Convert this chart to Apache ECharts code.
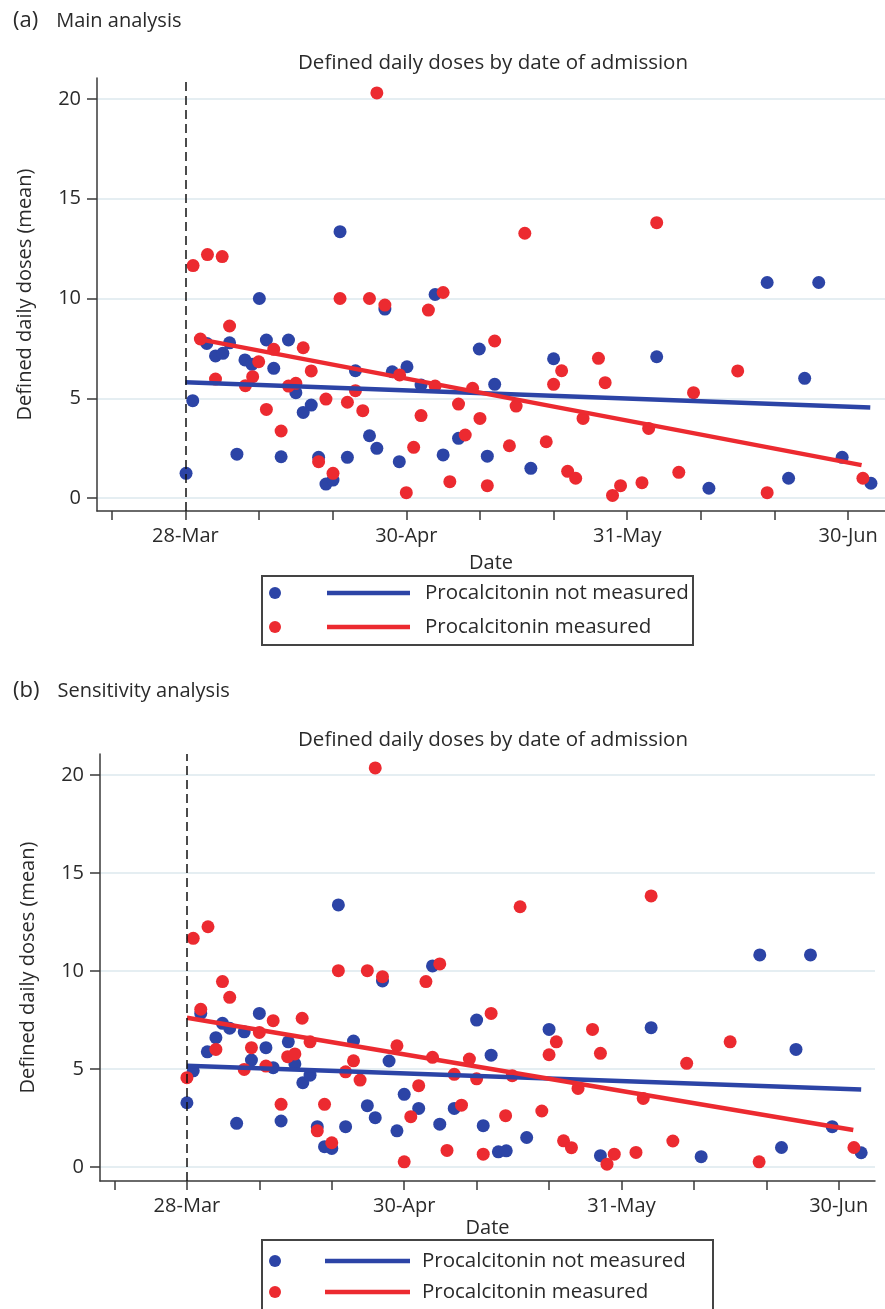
<!DOCTYPE html>
<html>
<head>
<meta charset="utf-8">
<script src="https://cdn.jsdelivr.net/npm/echarts@6/dist/echarts.min.js"></script>
<style>
  html, body { margin: 0; padding: 0; background: #fff; }
  #chart { width: 885px; height: 1309px; }
</style>
</head>
<body>
<div id="chart"></div>
<script>
// x values are days since 28-Mar (as placed on the original axis)
const tickDays = [-11, 0, 11, 22, 33, 44, 55, 66, 77, 88, 99];
const labelDays = [0, 33, 66, 99];
const dateLabels = ['28-Mar', '30-Apr', '31-May', '30-Jun'];
const yTicks = [0, 5, 10, 15, 20];

// (a) main analysis
const mainNotMeasured = [
  [0.1, 1.24], [1.1, 4.88], [3.2, 7.75], [4.5, 7.12], [5.6, 7.25], [6.6, 7.78], [7.7, 2.2],
  [8.9, 6.92], [9.95, 6.7], [11.05, 10.0], [12.1, 7.92], [13.2, 6.5], [14.3, 2.07], [15.4, 7.92],
  [16.5, 5.28], [17.6, 4.29], [18.8, 4.66], [19.9, 2.04], [21.0, 0.7], [22.05, 0.9], [23.1, 13.35],
  [24.2, 2.04], [25.4, 6.38], [27.5, 3.12], [28.6, 2.49], [29.8, 9.47], [30.9, 6.33], [31.95, 1.82],
  [33.1, 6.58], [35.2, 5.66], [37.3, 10.2], [38.5, 2.16], [40.8, 2.99], [43.9, 7.47], [45.1, 2.1],
  [46.2, 5.7], [51.6, 1.49], [55.0, 6.98], [70.4, 7.08], [78.2, 0.49], [86.9, 10.8], [90.1, 0.99],
  [92.5, 6.0], [94.6, 10.8], [98.1, 2.04], [102.4, 0.74]
];
const mainMeasured = [
  [1.15, 11.65], [2.24, 7.97], [3.3, 12.2], [4.5, 5.96], [5.5, 12.1], [6.6, 8.62], [8.96, 5.63],
  [10.05, 6.08], [10.95, 6.83], [12.1, 4.44], [13.2, 7.45], [14.3, 3.36], [15.4, 5.61], [16.5, 5.75],
  [17.6, 7.53], [18.8, 6.37], [19.9, 1.82], [21.0, 4.96], [22.05, 1.24], [23.1, 10.0], [24.2, 4.8],
  [25.4, 5.38], [26.5, 4.38], [27.5, 10.0], [28.6, 20.3], [29.8, 9.67], [32.0, 6.17], [33.0, 0.27],
  [34.1, 2.54], [35.2, 4.13], [36.3, 9.42], [37.3, 5.61], [38.5, 10.3], [39.5, 0.82], [40.8, 4.71],
  [41.8, 3.16], [42.9, 5.5], [44.0, 3.99], [45.1, 0.62], [46.2, 7.87], [48.4, 2.62], [49.4, 4.61],
  [50.7, 13.27], [53.9, 2.82], [55.0, 5.7], [56.2, 6.38], [57.1, 1.34], [58.3, 0.99], [59.4, 3.99],
  [61.7, 7.0], [62.7, 5.78], [63.8, 0.13], [65.0, 0.62], [68.2, 0.77], [69.2, 3.49], [70.4, 13.8],
  [73.7, 1.29], [75.9, 5.28], [82.5, 6.37], [86.9, 0.27], [101.2, 0.99]
];
const mainFitNotMeasured = [[0, 5.8], [102.3, 4.54]];
const mainFitMeasured = [[2.2, 7.95], [101.0, 1.65]];

// (b) sensitivity analysis
const sensNotMeasured = [
  [0, 3.28], [0.96, 4.91], [2.1, 7.84], [3.1, 5.88], [4.4, 6.6], [5.4, 7.33], [6.5, 7.08],
  [7.55, 2.23], [8.7, 6.9], [9.8, 5.46], [11.0, 7.84], [12.0, 6.09], [13.1, 5.07], [14.3, 2.35],
  [15.4, 6.39], [16.4, 5.26], [17.6, 4.3], [18.7, 4.69], [19.8, 2.06], [20.9, 1.04], [22.0, 0.95],
  [23.0, 13.37], [24.1, 2.06], [25.3, 6.43], [27.4, 3.13], [28.6, 2.52], [29.7, 9.49], [30.7, 5.41],
  [31.9, 1.85], [33.0, 3.71], [35.2, 2.99], [37.3, 10.26], [38.4, 2.19], [40.6, 2.99], [44.0, 7.5],
  [45.0, 2.11], [46.2, 5.71], [47.3, 0.78], [48.5, 0.83], [51.6, 1.51], [55.0, 7.02], [62.8, 0.58],
  [70.5, 7.11], [78.1, 0.53], [87.0, 10.82], [90.3, 1.0], [92.5, 6.0], [94.7, 10.82], [98.0, 2.06],
  [102.4, 0.73]
];
const sensMeasured = [
  [0, 4.56], [0.96, 11.67], [2.1, 8.05], [3.2, 12.26], [4.4, 6.0], [5.4, 9.46], [6.5, 8.66],
  [8.7, 4.98], [9.8, 6.09], [11.0, 6.87], [12.0, 5.15], [13.1, 7.47], [14.3, 3.2], [15.3, 5.63],
  [16.4, 5.77], [17.5, 7.59], [18.7, 6.39], [19.8, 1.85], [20.9, 3.2], [22.0, 1.24], [23.0, 10.02],
  [24.1, 4.86], [25.3, 5.42], [26.3, 4.44], [27.4, 10.02], [28.6, 20.36], [29.7, 9.71], [31.9, 6.19],
  [33.0, 0.27], [34.0, 2.57], [35.2, 4.15], [36.3, 9.46], [37.3, 5.6], [38.4, 10.36], [39.5, 0.85],
  [40.6, 4.73], [41.7, 3.16], [42.9, 5.51], [44.0, 4.5], [45.0, 0.66], [46.2, 7.84], [48.4, 2.62],
  [49.4, 4.66], [50.6, 13.28], [53.9, 2.86], [55.0, 5.73], [56.1, 6.39], [57.2, 1.34], [58.4, 0.99],
  [59.4, 4.01], [61.6, 7.02], [62.8, 5.8], [63.8, 0.15], [64.9, 0.66], [68.2, 0.75], [69.3, 3.5],
  [70.5, 13.83], [73.8, 1.33], [75.9, 5.29], [82.5, 6.39], [86.9, 0.27], [101.3, 1.0]
];
const sensFitNotMeasured = [[0, 5.17], [102.4, 3.96]];
const sensFitMeasured = [[0, 7.62], [101.2, 1.89]];

const BLUE = '#2c44a6';
const RED = '#ec2a30';
const AXIS = '#3a3a3a';
const TEXT = '#2a2a2a';
const FONT = '"Open Sans", sans-serif';

const chart = echarts.init(document.getElementById('chart'));

function xAxisFor(i, nameGap) {
  return {
    type: 'value', gridIndex: i, min: -13.2, max: 104.5,
    name: 'Date', nameLocation: 'middle', nameGap: nameGap,
    nameTextStyle: { fontSize: 20, color: TEXT, fontFamily: FONT },
    axisLine: { show: true, onZero: false, lineStyle: { color: AXIS, width: 1.5 } },
    axisTick: { show: true, length: 9, customValues: tickDays, lineStyle: { color: AXIS, width: 1.5 } },
    axisLabel: {
      customValues: labelDays, margin: 15, fontSize: 20, color: TEXT, fontFamily: FONT,
      formatter: v => dateLabels[labelDays.indexOf(v)]
    },
    splitLine: { show: false }
  };
}

function yAxisFor(i, min, max) {
  return {
    type: 'value', gridIndex: i, min: min, max: max,
    name: 'Defined daily doses (mean)', nameLocation: 'middle', nameGap: 62,
    nameTextStyle: { fontSize: 20, color: TEXT, fontFamily: FONT },
    axisLine: { show: true, onZero: false, lineStyle: { color: AXIS, width: 1.5 } },
    axisTick: { show: true, length: 10, customValues: yTicks, lineStyle: { color: AXIS, width: 1.5 } },
    axisLabel: { customValues: yTicks, margin: 16, fontSize: 20, color: TEXT, fontFamily: FONT },
    splitLine: { show: true, lineStyle: { color: '#dde9ee', width: 1.5 } }
  };
}

function dots(i, name, data, color, withRef) {
  const s = {
    name: name, type: 'scatter', xAxisIndex: i, yAxisIndex: i,
    data: data, symbolSize: 13, itemStyle: { color: color, opacity: 1 }
  };
  if (withRef) {
    s.markLine = {
      silent: true, symbol: 'none', label: { show: false },
      lineStyle: { color: '#111', type: [9, 5], width: 1.5 },
      data: [{ xAxis: 0 }]
    };
  }
  return s;
}

function fit(i, data, color) {
  return {
    type: 'line', xAxisIndex: i, yAxisIndex: i, data: data,
    symbol: 'none', lineStyle: { color: color, width: 4.5 }
  };
}

function legendBox(x, y, w, h, rowY, lineX0, textX) {
  const els = [{
    type: 'rect', shape: { x: x, y: y, width: w, height: h },
    style: { fill: 'none', stroke: '#444', lineWidth: 2 }
  }];
  const items = [['Procalcitonin not measured', BLUE], ['Procalcitonin measured', RED]];
  items.forEach((it, k) => {
    const cy = rowY[k];
    els.push({ type: 'circle', shape: { cx: x + 13, cy: cy, r: 6 }, style: { fill: it[1] } });
    els.push({ type: 'line', shape: { x1: lineX0, y1: cy, x2: 410, y2: cy }, style: { stroke: it[1], lineWidth: 4.5 } });
    els.push({
      type: 'text', x: textX, y: cy,
      style: { text: it[0], fill: TEXT, font: '20.5px ' + FONT, verticalAlign: 'middle' }
    });
  });
  return els;
}

const panelTitle = { fontSize: 20.5, fontWeight: 'normal', color: TEXT, fontFamily: FONT };
const tag = {
  fontSize: 20, fontWeight: 'normal', color: TEXT, fontFamily: FONT,
  rich: { p: { fontSize: 22, color: TEXT, fontFamily: FONT, padding: [0, 18, 0, 0] } }
};

chart.setOption({
  animation: false,
  backgroundColor: '#fff',
  title: [
    { text: '{p|(a)}Main analysis', left: 8, top: 5, textStyle: tag },
    { text: 'Defined daily doses by date of admission', left: 488, top: 48, textAlign: 'center', textStyle: panelTitle },
    { text: '{p|(b)}Sensitivity analysis', left: 8, top: 675, textStyle: tag },
    { text: 'Defined daily doses by date of admission', left: 488, top: 725, textAlign: 'center', textStyle: panelTitle }
  ],
  grid: [
    { left: 97, top: 78, width: 788, height: 433 },
    { left: 100, top: 754, width: 775, height: 427 }
  ],
  xAxis: [xAxisFor(0, 42), xAxisFor(1, 37)],
  yAxis: [yAxisFor(0, -0.65, 21.05), yAxisFor(1, -0.71, 21.07)],
  series: [
    dots(0, 'Procalcitonin not measured', mainNotMeasured, BLUE, true),
    dots(0, 'Procalcitonin measured', mainMeasured, RED, false),
    fit(0, mainFitNotMeasured, BLUE),
    fit(0, mainFitMeasured, RED),
    dots(1, 'Procalcitonin not measured', sensNotMeasured, BLUE, true),
    dots(1, 'Procalcitonin measured', sensMeasured, RED, false),
    fit(1, sensFitNotMeasured, BLUE),
    fit(1, sensFitMeasured, RED)
  ],
  graphic: [].concat(
    legendBox(262, 576, 431, 69, [593, 627], 327, 425),
    legendBox(262, 1240, 451, 80, [1261, 1292], 325, 422)
  )
});
</script>
</body>
</html>
